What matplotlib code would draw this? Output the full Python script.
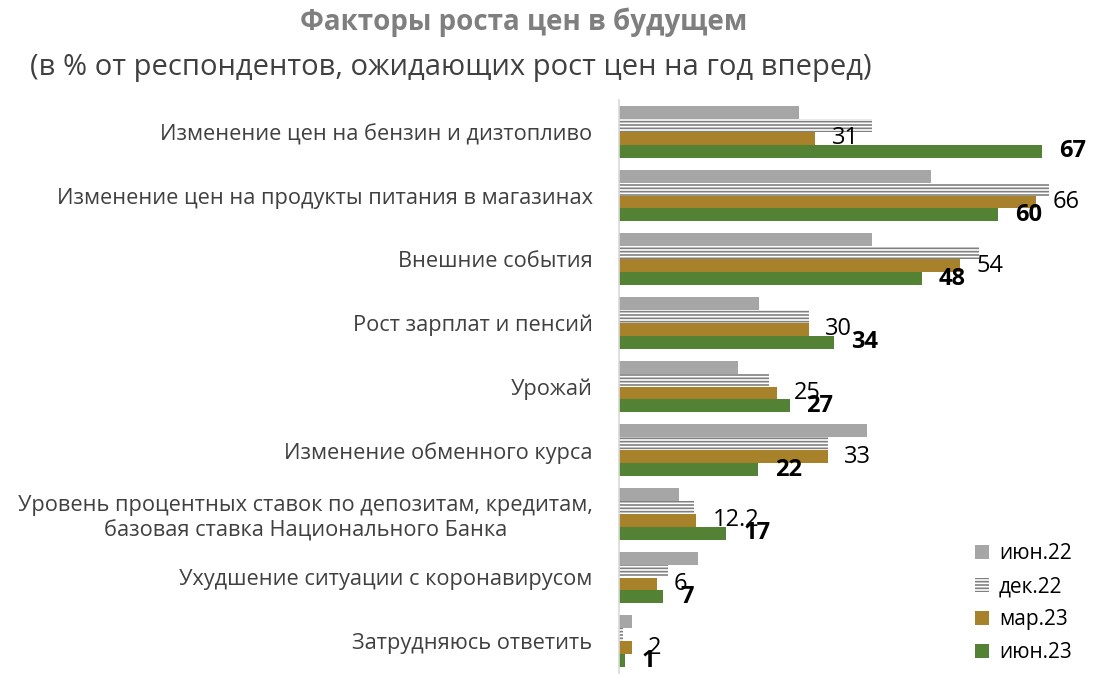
import matplotlib
matplotlib.use("Agg")
import matplotlib.pyplot as plt
from matplotlib.patches import Patch
import numpy as np

plt.rcParams['font.family'] = ['Open Sans', 'DejaVu Sans']
plt.rcParams['hatch.linewidth'] = 1.2

categories = [
    "Изменение цен на бензин и дизтопливо",
    "Изменение цен на продукты питания в магазинах",
    "Внешние события",
    "Рост зарплат и пенсий",
    "Урожай",
    "Изменение обменного курса",
    "Уровень процентных ставок по депозитам, кредитам,\nбазовая ставка Национального Банка",
    "Ухудшение ситуации с коронавирусом",
    "Затрудняюсь ответить",
]
series_names = ["июн.22", "дек.22", "мар.23", "июн.23"]
jun22 = [28.5, 49.3, 40, 22.2, 18.8, 39.3, 9.5, 12.5, 2.1]
dec22 = [40, 68, 57, 30, 23.8, 33, 11.8, 7.7, 0.7]
mar23 = [31, 66, 54, 30, 25, 33, 12.2, 6, 2]
jun23 = [67, 60, 48, 34, 27, 22, 17, 7, 1]
mar23_labels = ["31", "66", "54", "30", "25", "33", "12.2", "6", "2"]
jun23_labels = ["67", "60", "48", "34", "27", "22", "17", "7", "1"]

fig = plt.figure(figsize=(11.2, 6.87), dpi=100)
ax = fig.add_axes([619/1120, 1-673/687, (1112-619)/1120, (673-100)/687])

y = np.arange(len(categories))
h = 0.204
gray = '#a6a6a6'
gold = '#a8822a'
green = '#548235'

ax.barh(y - 1.5*h, jun22, height=h, color=gray)
ax.barh(y - 0.5*h, dec22, height=h, facecolor='white', edgecolor='#808080',
        linewidth=0, hatch='-----')
b3 = ax.barh(y + 0.5*h, mar23, height=h, color=gold)
b4 = ax.barh(y + 1.5*h, jun23, height=h, color=green)

ax.bar_label(b3, labels=mar23_labels, padding=12, fontsize=17, color='black')
ax.bar_label(b4, labels=jun23_labels, padding=12, fontsize=17, color='black',
             fontweight='bold')

ax.set_xlim(0, 78)
ax.set_ylim(len(categories) - 0.5, -0.5)
ax.set_yticks(y)
ax.set_yticklabels(categories, fontsize=15.7, color='#404040', linespacing=1.25)
for t in ax.get_yticklabels():
    t.set_multialignment('center')
ax.tick_params(axis='y', length=0, pad=19)
ax.set_xticks([])
for s in ['top', 'right', 'bottom']:
    ax.spines[s].set_visible(False)
ax.spines['left'].set_color('#d9d9d9')
ax.spines['left'].set_linewidth(1.2)

handles = [
    Patch(facecolor=gray, edgecolor='none'),
    Patch(facecolor='white', edgecolor='#808080', linewidth=0, hatch='-----'),
    Patch(facecolor=gold, edgecolor='none'),
    Patch(facecolor=green, edgecolor='none'),
]
fig.legend(handles, series_names, loc='upper left',
           bbox_to_anchor=(975/1120, 1-543/687), frameon=False,
           fontsize=15, handlelength=0.65, handleheight=0.65,
           handletextpad=0.5, labelspacing=0.58, borderpad=0, borderaxespad=0)

fig.text(524/1120, 1-22/687, "Факторы роста цен в будущем", ha='center',
         va='center', fontsize=20, fontweight='bold', color='#7f7f7f')
fig.text(451/1120, 1-68/687, "(в % от респондентов, ожидающих рост цен на год вперед)",
         ha='center', va='center', fontsize=21, color='#404040')

fig.savefig("out.png", dpi=100)
